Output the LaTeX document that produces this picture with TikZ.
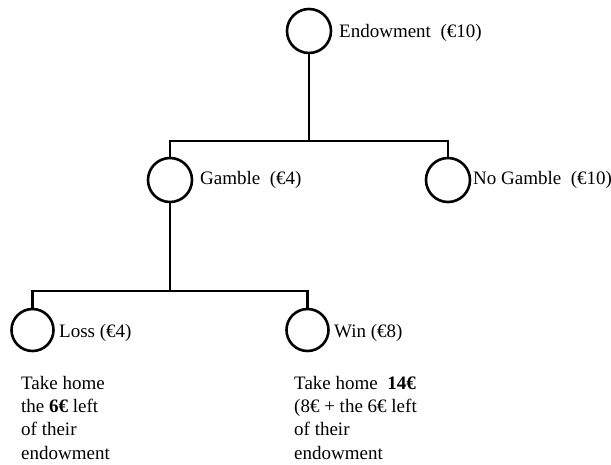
\documentclass[tikz,border=0pt]{standalone}
\usepackage{fontspec}
\setmainfont{Liberation Serif}
\begin{document}
\begin{tikzpicture}[x=1pt,y=-1pt,
  circ/.style={draw,circle,line width=2.6pt,inner sep=0pt,minimum size=44pt},
  lbl/.style={anchor=base west,inner sep=0pt,font=\fontsize{19}{23.3}\selectfont},
  txt/.style={anchor=base west,inner sep=0pt,align=left,font=\fontsize{19}{23.3}\selectfont},
  conn/.style={line width=2.6pt}]
\useasboundingbox (0,0) rectangle (611,464);
\node[circ] (e) at (309,31) {};
\node[circ] (g) at (170,180) {};
\node[circ] (ng) at (448,180) {};
\node[circ,minimum size=42pt] (l) at (32.5,330) {};
\node[circ,minimum size=42pt] (w) at (307.5,330) {};
\coordinate (j1) at (309,141);
\coordinate (j2) at (170,291);
\draw[conn] (e) -- (j1);
\draw[conn] (g) |- (j1) -| (ng);
\draw[conn] (g) -- (j2);
\draw[conn] (l) |- (j2) -| (w);
\node[lbl] (te) at (339,37) {Endowment\ \ (€10)};
\node[lbl] (tg) at (200,184) {Gamble\ \ (€4)};
\node[lbl] (tng) at (473,184) {No Gamble\ \ (€10)};
\node[lbl] (tl) at (59,337) {Loss (€4)};
\node[lbl] (tw) at (334,337) {Win (€8)};
\node[txt] (bl) at (21,459) {Take home\\the \textbf{6€} left\\of their\\endowment};
\node[txt] (bw) at (294,459) {Take home\ \ \textbf{14€}\\(8€ + the 6€ left\\of their\\endowment};
\end{tikzpicture}
\end{document}
